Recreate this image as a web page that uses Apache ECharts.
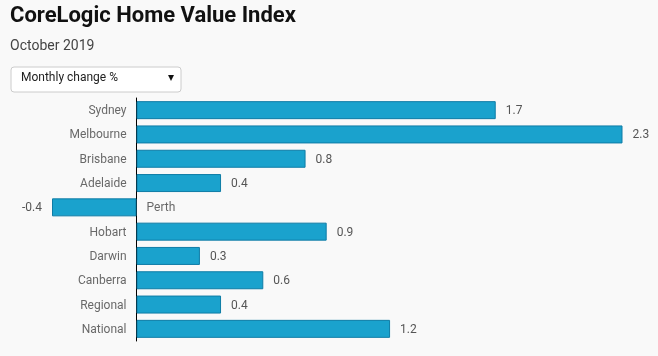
<!DOCTYPE html>
<html><head><meta charset="utf-8">
<script src="https://cdn.jsdelivr.net/npm/echarts@6/dist/echarts.min.js"></script>
<style>html,body{margin:0;padding:0;background:#f9f9f9;}#c{width:658px;height:356px;}</style>
</head><body><div id="c"></div>
<script>
var categories = ['Sydney','Melbourne','Brisbane','Adelaide','Perth','Hobart','Darwin','Canberra','Regional','National'];
var values = [1.7, 2.3, 0.8, 0.4, -0.4, 0.9, 0.3, 0.6, 0.4, 1.2];
var titleText = 'CoreLogic Home Value Index';
var subtitleText = 'October 2019';
var selectText = 'Monthly change %';

var chart = echarts.init(document.getElementById('c'), null, {renderer:'canvas'});
var font = 'Roboto';
chart.setOption({
  backgroundColor: '#f9f9f9',
  animation: false,
  textStyle: {fontFamily: font},
  grid: {left: 52, right: 35.5, top: 98, bottom: 15, containLabel: false},
  xAxis: {type: 'value', min: -0.4, max: 2.3, show: false},
  yAxis: {type: 'category', data: categories, inverse: true,
    axisLine: {show: true, onZero: true, lineStyle: {color: '#000', width: 1}},
    axisTick: {show: false}, axisLabel: {show: false}, splitLine: {show: false}},
  graphic: [
    {type: 'text', left: 10, top: 5, style: {text: titleText, font: 'bold 22px Roboto', fill: '#111'}},
    {type: 'text', left: 10, top: 39, style: {text: subtitleText, font: '14px Roboto', fill: '#444'}},
    {type: 'rect', left: 10.5, top: 66.5, shape: {width: 170, height: 25, r: 3}, style: {fill: '#fff', stroke: '#ccc', lineWidth: 1}},
    {type: 'text', left: 21, top: 72, style: {text: selectText, font: '12px Roboto', fill: '#222'}},
    {type: 'text', left: 168, top: 72, style: {text: '▾', font: '12px DejaVu Sans', fill: '#111'}}
  ],
  series: [
    {type: 'bar', barWidth: 18,
     data: values.map(function(v){return {value: v, label: {position: v < 0 ? 'left' : 'right'}};}),
     itemStyle: {color: '#1aa2cd', borderColor: '#0e7ca6', borderWidth: 1},
     label: {show: true, distance: 10, offset: [0, 1], color: '#555', fontSize: 12, fontFamily: font}},
    {type: 'scatter', symbolSize: 0, silent: true,
     data: categories.map(function(c, i){return {value: [0, c], label: {position: values[i] < 0 ? 'right' : 'left'}};}),
     label: {show: true, distance: 10, offset: [0, 1], color: '#444', fontSize: 12, fontFamily: font,
       formatter: function(p){return p.value[1];}}}
  ]
});
</script></body></html>
